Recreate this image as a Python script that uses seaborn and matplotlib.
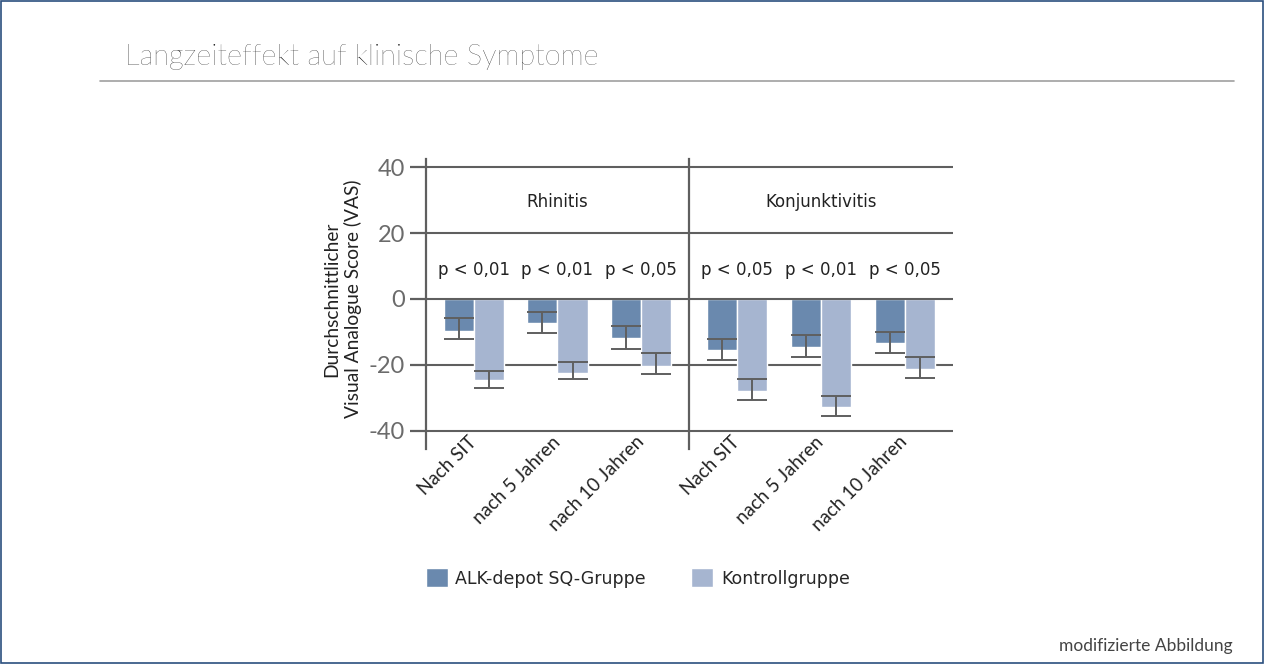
import matplotlib.pyplot as plt
import seaborn as sns
import pandas as pd
import numpy as np
from matplotlib.patches import Patch, Rectangle
from matplotlib.lines import Line2D

# Daten
zeitpunkte = ["Nach SIT", "nach 5 Jahren", "nach 10 Jahren"]
gruppen = ["ALK-depot SQ-Gruppe", "Kontrollgruppe"]

rhin_alk = [-9.7, -7.2, -11.8]
rhin_alk_oben = [-5.9, -4.1, -8.2]
rhin_alk_unten = [-12.3, -10.4, -15.3]
rhin_ktr = [-24.6, -22.4, -20.3]
rhin_ktr_oben = [-21.8, -19.3, -16.4]
rhin_ktr_unten = [-27.0, -24.4, -22.9]
rhin_p = ["p < 0,01", "p < 0,01", "p < 0,05"]

konj_alk = [-15.5, -14.5, -13.3]
konj_alk_oben = [-12.3, -11.1, -10.0]
konj_alk_unten = [-18.7, -17.6, -16.4]
konj_ktr = [-27.9, -32.7, -21.2]
konj_ktr_oben = [-24.4, -29.4, -17.7]
konj_ktr_unten = [-30.8, -35.7, -24.1]
konj_p = ["p < 0,05", "p < 0,01", "p < 0,05"]

y_ticks = [40, 20, 0, -20, -40]

farben = ["#6a89ae", "#a6b5d0"]
linie = "#5f5f5f"

sns.set_theme(style="white")
plt.rcParams['font.family'] = ['DejaVu Sans']
plt.rcParams['axes.unicode_minus'] = False

fig = plt.figure(figsize=(12.64, 6.64), dpi=100)
ax1 = fig.add_axes([0.337, 0.3238, 0.2081, 0.4367])
ax2 = fig.add_axes([0.5451, 0.3238, 0.2089, 0.4367], sharey=ax1)


def panel(ax, titel, alk, alk_o, alk_u, ktr, ktr_o, ktr_u, pwerte):
    df = pd.DataFrame({
        "Zeitpunkt": zeitpunkte * 2,
        "Gruppe": [gruppen[0]] * 3 + [gruppen[1]] * 3,
        "VAS": alk + ktr,
    })
    sns.barplot(data=df, x="Zeitpunkt", y="VAS", hue="Gruppe", hue_order=gruppen,
                palette=farben, width=0.72, errorbar=None, legend=False,
                saturation=1, ax=ax, zorder=2)
    # Fehlerbalken an den Balkenpositionen
    for cont, werte, oben, unten in zip(ax.containers, [alk, ktr], [alk_o, ktr_o], [alk_u, ktr_u]):
        xs = [b.get_x() + b.get_width() / 2 for b in cont]
        err = [np.subtract(werte, unten), np.subtract(oben, werte)]
        ax.errorbar(xs, werte, yerr=err, fmt='none', ecolor=linie, elinewidth=1.4,
                    capsize=10.5, capthick=1.4, zorder=4)
    for t in y_ticks:
        ax.axhline(t, color=linie, lw=1.5, zorder=1 if t != 0 else 5)
    ax.text(1, 29.5, titel, ha='center', va='center', fontsize=12, color='#222222')
    for i, p in enumerate(pwerte):
        ax.text(i, 8.8, p, ha='center', va='center', fontsize=12, color='#222222')
    ax.set_xlim(-0.575, 2.575)
    ax.set_ylim(-45.6, 42.5)
    for s in ["top", "right", "bottom"]:
        ax.spines[s].set_visible(False)
    ax.spines["left"].set_color(linie)
    ax.spines["left"].set_linewidth(1.6)
    ax.set_xlabel("")
    ax.set_ylabel("")
    ax.tick_params(axis='x', length=0, pad=-7)
    ax.set_xticks(range(3))
    ax.set_xticklabels(zeitpunkte, rotation=45, ha='right', va='center',
                       rotation_mode='anchor', fontsize=13.5, family='Lato', color='#222222')


panel(ax1, "Rhinitis", rhin_alk, rhin_alk_oben, rhin_alk_unten,
      rhin_ktr, rhin_ktr_oben, rhin_ktr_unten, rhin_p)
panel(ax2, "Konjunktivitis", konj_alk, konj_alk_oben, konj_alk_unten,
      konj_ktr, konj_ktr_oben, konj_ktr_unten, konj_p)

ax1.set_yticks(y_ticks)
ax1.set_yticklabels([str(t) for t in y_ticks], fontsize=17, family='Lato', color='#6b6b6b')
ax1.tick_params(axis='y', left=True, length=11.5, width=1.6, color=linie, pad=3.5)
ax2.tick_params(axis='y', left=False, labelleft=False)

ax1.set_ylabel("Durchschnittlicher\nVisual Analogue Score (VAS)", fontsize=13.8,
               family='Lato', color='#222222', linespacing=1.25)
ax1.yaxis.set_label_coords(-0.243, 0.517)

# Legende
handles = [Patch(facecolor=farben[0]), Patch(facecolor=farben[1])]
fig.legend(handles, gruppen, loc='center left', bbox_to_anchor=(0.337, 0.1295),
           ncol=2, frameon=False, fontsize=12.5, handlelength=1.25, handleheight=1.3,
           handletextpad=0.45, columnspacing=2.6, borderpad=0, borderaxespad=0)

# Titel, Trennlinie, Rahmen, Fußnote
fig.text(125 / 1264, 1 - 57 / 664, "Langzeiteffekt auf klinische Symptome", fontsize=21,
         family='Lato', fontweight='light', color='#111111', va='center', ha='left')
fig.add_artist(Line2D([100 / 1264, 1234 / 1264], [1 - 81 / 664, 1 - 81 / 664],
                      color='#a0a0a0', lw=1.2))
fig.add_artist(Rectangle((0.0008, 0.0015), 0.9984, 0.997, fill=False,
                         edgecolor='#2b4f7e', lw=1.2))
fig.text(1233 / 1264, 1 - 646 / 664, "modifizierte Abbildung", fontsize=12.5,
         family='Lato', color='#444444', ha='right', va='center')

fig.savefig("out.png", dpi=100)
